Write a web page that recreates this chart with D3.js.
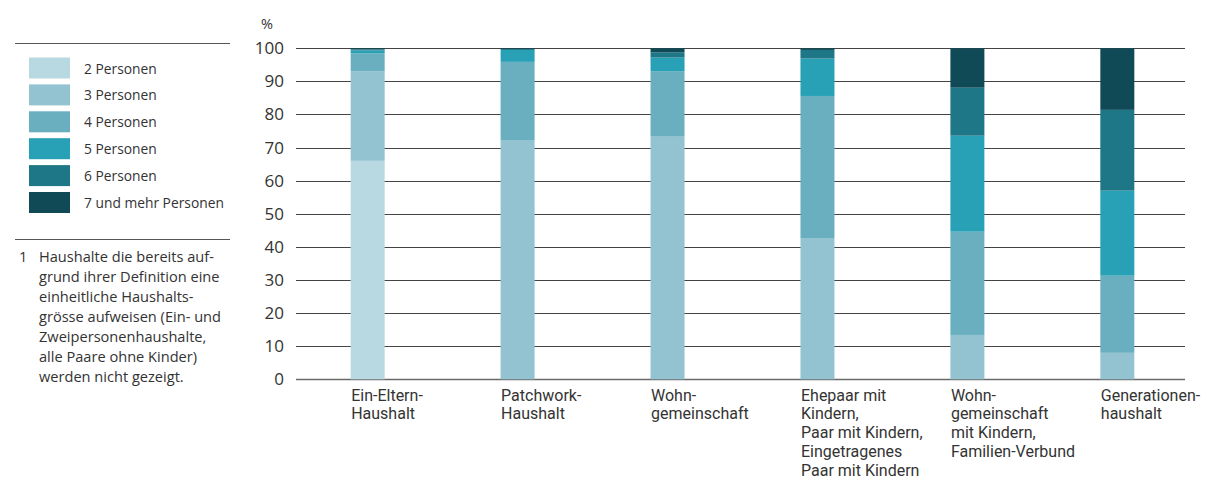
<!DOCTYPE html>
<html lang="de">
<head>
<meta charset="utf-8">
<script src="https://cdn.jsdelivr.net/npm/d3@7"></script>
<style>
  html, body { margin: 0; padding: 0; background: #fff; }
  svg { display: block; font-family: "Open Sans", "Noto Sans", sans-serif; }
</style>
</head>
<body>
<svg id="chart" width="1212" height="484"></svg>
<script>
// Household types (x-axis categories), each label split into lines
const categories = [
  "Ein-Eltern-Haushalt",
  "Patchwork-Haushalt",
  "Wohngemeinschaft",
  "Ehepaar mit Kindern",
  "Wohngemeinschaft mit Kindern",
  "Generationenhaushalt"
];
const categoryLines = [
  ["Ein-Eltern-", "Haushalt"],
  ["Patchwork-", "Haushalt"],
  ["Wohn-", "gemeinschaft"],
  ["Ehepaar mit", "Kindern,", "Paar mit Kindern,", "Eingetragenes", "Paar mit Kindern"],
  ["Wohn-", "gemeinschaft", "mit Kindern,", "Familien-Verbund"],
  ["Generationen-", "haushalt"]
];

// Household size series, share in percent per household type
const seriesNames = ["2 Personen", "3 Personen", "4 Personen", "5 Personen", "6 Personen", "7 und mehr Personen"];
const p2 = [66.0, 0.0, 0.0, 0.0, 0.0, 0.0];
const p3 = [27.1, 72.1, 73.3, 42.5, 13.4, 8.0];
const p4 = [5.4, 23.8, 19.8, 43.1, 31.2, 23.3];
const p5 = [0.9, 3.6, 4.1, 11.3, 29.0, 25.7];
const p6 = [0.3, 0.3, 1.6, 2.6, 14.5, 24.4];
const p7 = [0.3, 0.2, 1.2, 0.5, 11.9, 18.6];
const seriesValues = [p2, p3, p4, p5, p6, p7];
const seriesColors = ["#b8d9e2", "#93c3d0", "#69afc0", "#28a0b5", "#1e7787", "#0f4a56"];

const yTicks = [0, 10, 20, 30, 40, 50, 60, 70, 80, 90, 100];

const footnoteLines = [
  "Haushalte die bereits auf-",
  "grund ihrer Definition eine",
  "einheitliche Haushalts-",
  "grösse aufweisen (Ein- und",
  "Zweipersonenhaushalte,",
  "alle Paare ohne Kinder)",
  "werden nicht gezeigt."
];

const textColor = "#333333";
const svg = d3.select("#chart");

// Build stack input
const rows = categories.map((c, i) => {
  const r = { category: c };
  seriesNames.forEach((s, k) => { r[s] = seriesValues[k][i]; });
  return r;
});
const stacked = d3.stack().keys(seriesNames)(rows);

const x = d3.scaleBand()
  .domain(categories)
  .range([296, 1189])
  .paddingInner(0.7733)
  .paddingOuter(0.3647)
  .align(0.5);

const y = d3.scaleLinear().domain([0, 100]).range([379.3, 48.3]);

// Gridlines
const gridX0 = 296, gridX1 = 1185;
svg.append("g").attr("class", "grid")
  .selectAll("line")
  .data(yTicks)
  .join("line")
  .attr("x1", gridX0).attr("x2", gridX1)
  .attr("y1", d => Math.round(y(d)) + 0.5)
  .attr("y2", d => Math.round(y(d)) + 0.5)
  .attr("stroke", d => d === 0 ? "#6a6a6a" : "#444444")
  .attr("stroke-width", d => d === 0 ? 1.6 : 1);

// Y axis tick labels
const yAxis = d3.axisLeft(y).tickValues(yTicks).tickSize(0).tickPadding(0);
const yg = svg.append("g").attr("transform", "translate(284,0)").call(yAxis);
yg.select(".domain").remove();
yg.selectAll("text")
  .attr("font-size", 17)
  .attr("fill", textColor)
  .attr("font-family", "'Open Sans', sans-serif");

svg.append("text")
  .attr("x", 261).attr("y", 28.5)
  .attr("font-size", 14.5).attr("fill", textColor)
  .text("%");

// Stacked bars
svg.append("g").attr("class", "bars")
  .selectAll("g")
  .data(stacked)
  .join("g")
  .attr("fill", (d, k) => seriesColors[k])
  .selectAll("rect")
  .data(d => d)
  .join("rect")
  .attr("x", d => x(d.data.category))
  .attr("width", x.bandwidth())
  .attr("y", d => y(d[1]))
  .attr("height", d => Math.max(0, y(d[0]) - y(d[1])));

// Category labels, one text per line, left aligned at the bar;
// the block is moved left when it would run past the right edge
const labelFont = 16, labelLead = 18.8;
const labels = svg.append("g").attr("class", "xlabels")
  .attr("font-size", labelFont).attr("fill", textColor)
  .attr("font-family", "Roboto, 'Liberation Sans', sans-serif");
categories.forEach((c, i) => {
  const x0 = x(c) + 0.5;
  const g = labels.append("g");
  const texts = categoryLines[i].map((line, j) =>
    g.append("text").attr("x", x0).attr("y", 400.5 + j * labelLead).text(line));
  const w = d3.max(texts, t => t.node().getComputedTextLength());
  const overflow = x0 + w - 1210;
  if (overflow > 0) texts.forEach(t => t.attr("x", x0 - overflow));
});

// Legend
const legendTop = 43.5;
svg.append("line")
  .attr("x1", 15).attr("x2", 230)
  .attr("y1", legendTop).attr("y2", legendTop)
  .attr("stroke", "#555").attr("stroke-width", 1);

const legend = svg.append("g").attr("class", "legend");
const lg = legend.selectAll("g")
  .data(seriesNames)
  .join("g")
  .attr("transform", (d, k) => `translate(29, ${57.5 + k * 26.9})`);
lg.append("rect")
  .attr("width", 41).attr("height", 21)
  .attr("fill", (d, k) => seriesColors[k]);
lg.append("text")
  .attr("x", 55).attr("y", 16)
  .attr("font-size", 13.8).attr("fill", textColor)
  .text(d => d);

svg.append("line")
  .attr("x1", 15).attr("x2", 230)
  .attr("y1", 239.5).attr("y2", 239.5)
  .attr("stroke", "#555").attr("stroke-width", 1);

// Footnote
const fn = svg.append("g").attr("class", "footnote")
  .attr("font-size", 14.6).attr("fill", textColor);
fn.append("text").attr("x", 19).attr("y", 262).text("1");
footnoteLines.forEach((line, j) => {
  fn.append("text").attr("x", 39).attr("y", 262 + j * 20).text(line);
});
</script>
</body>
</html>
